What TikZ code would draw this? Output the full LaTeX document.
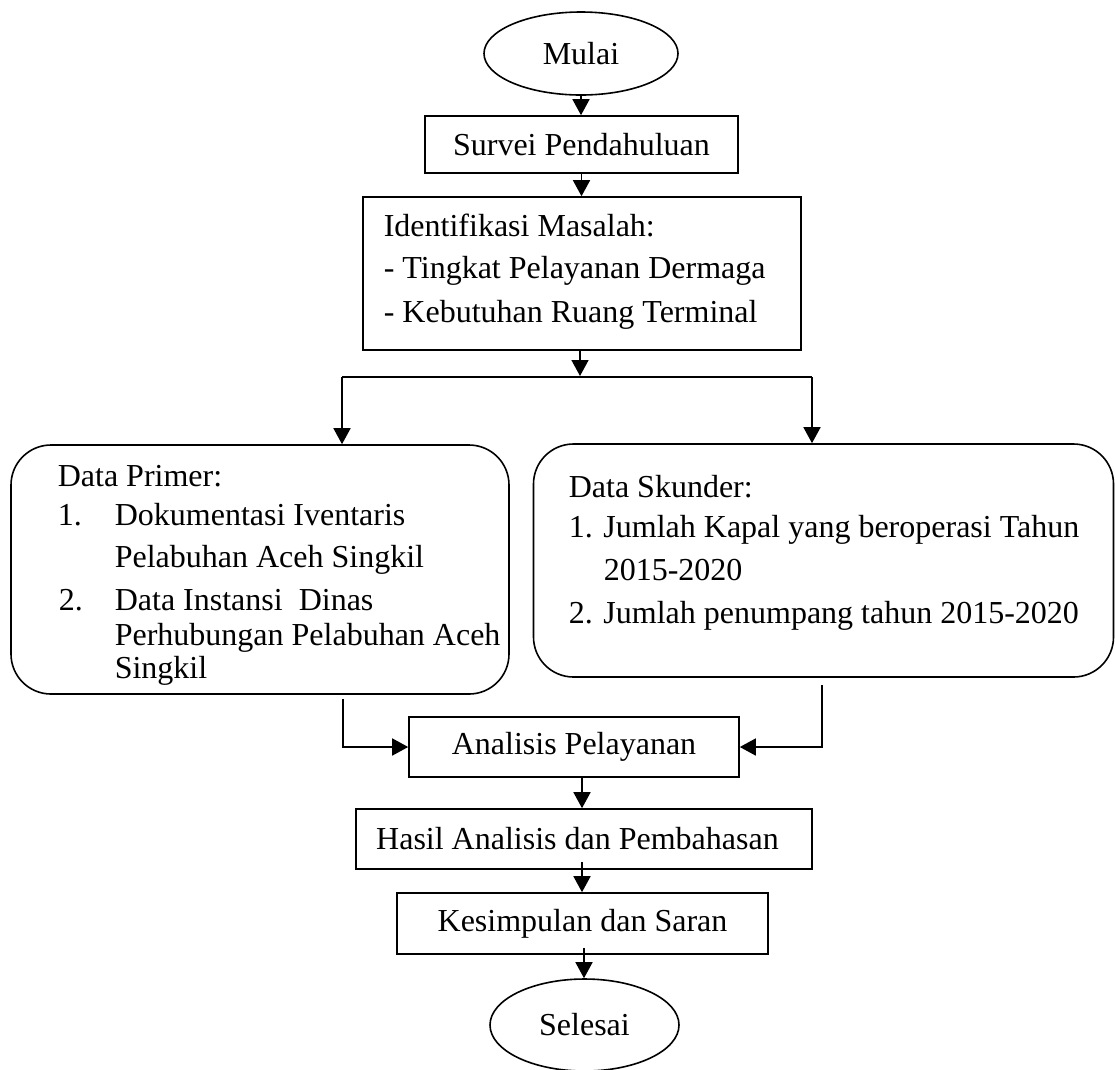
\documentclass[tikz,border=0pt]{standalone}
\usepackage{fontspec}
\setmainfont{Liberation Serif}
\usetikzlibrary{shapes.geometric,arrows.meta}
\begin{document}
\begin{tikzpicture}[x=1pt,y=-1pt,
  line width=1.6pt,
  every node/.style={font=\fontsize{32}{38}\selectfont, inner sep=0pt},
  term/.style={draw, ellipse, minimum width=194pt, minimum height=83pt},
  procbox/.style={draw, rectangle},
  databox/.style={draw, rectangle, rounded corners=40pt},
  ln/.style={anchor=base west},
  arr/.style={-{Triangle[length=16pt,width=17pt]}},
]
\useasboundingbox (0,0) rectangle (1115,1069);

% nodes
\node[term] (mulai) at (581,53.5) {Mulai};
\node[procbox, minimum width=313pt, minimum height=57pt] (survei) at (581.5,144.5) {Survei Pendahuluan};
\node[procbox, minimum width=438pt, minimum height=153pt] (ident) at (582,273.5) {};
\node[ln] (i1) at (383,236) {Identifikasi Masalah:};
\node[ln] (i2) at (383,278) {- Tingkat Pelayanan Dermaga};
\node[ln] (i3) at (383,322) {- Kebutuhan Ruang Terminal};

\node[databox, minimum width=498pt, minimum height=249pt] (primer) at (260,569.5) {};
\node[ln] (p1) at (57,486) {Data Primer:};
\node[ln] (p2n) at (57,525) {1.};
\node[ln] (p2) at (114,525) {Dokumentasi Iventaris};
\node[ln] (p3) at (114,567) {Pelabuhan Aceh Singkil};
\node[ln] (p4n) at (58,610) {2.};
\node[ln] (p4) at (114,610) {Data Instansi~ Dinas};
\node[ln] (p5) at (114,645) {Perhubungan Pelabuhan Aceh};
\node[ln] (p6) at (114,678) {Singkil};

\node[databox, minimum width=580pt, minimum height=233pt] (skunder) at (823.5,560.5) {};
\node[ln] (s1) at (568,497) {Data Skunder:};
\node[ln] (s2) at (568,537) {1. Jumlah Kapal yang beroperasi Tahun};
\node[ln] (s3) at (603,580) {2015-2020};
\node[ln] (s4) at (568,623) {2. Jumlah penumpang tahun 2015-2020};

\node[procbox, minimum width=330pt, minimum height=60pt] (analisis) at (574,747) {Analisis Pelayanan};
\node[procbox, minimum width=456pt, minimum height=60pt] (hasil) at (584,839) {\hspace*{-13pt}Hasil Analisis dan Pembahasan};
\node[procbox, minimum width=371pt, minimum height=61pt] (kesimpulan) at (582.5,923.5) {Kesimpulan dan Saran};
\node[term, minimum width=189pt, minimum height=92pt] (selesai) at (584.5,1025) {Selesai};

% connectors
\draw[arr] (mulai.south) -- (mulai.south |- survei.north);
\draw[arr] (survei.south) -- (survei.south |- ident.north);
\coordinate (split) at (580,376);
\draw[arr] (ident.south -| split) -- (split);
\coordinate (sl) at (342,377);
\coordinate (sr) at (812,377);
\draw (sl) -- (sr);
\draw[arr] (sl) -- (sl |- primer.north);
\draw[arr] (sr) -- (sr |- skunder.north);
\coordinate (pl) at (343,699);
\coordinate (sk) at (822,685);
\draw[arr] (pl) |- (analisis.west);
\draw[arr] (sk) |- (analisis.east);
\coordinate (ax) at (582,0);
\draw[arr] (analisis.south -| ax) -- (hasil.north -| ax);
\coordinate (hk) at (582,862);
\draw[arr] (hk) -- (hk |- kesimpulan.north);
\coordinate (ks) at (584,948);
\draw[arr] (ks) -- (ks |- selesai.north);
\end{tikzpicture}
\end{document}
